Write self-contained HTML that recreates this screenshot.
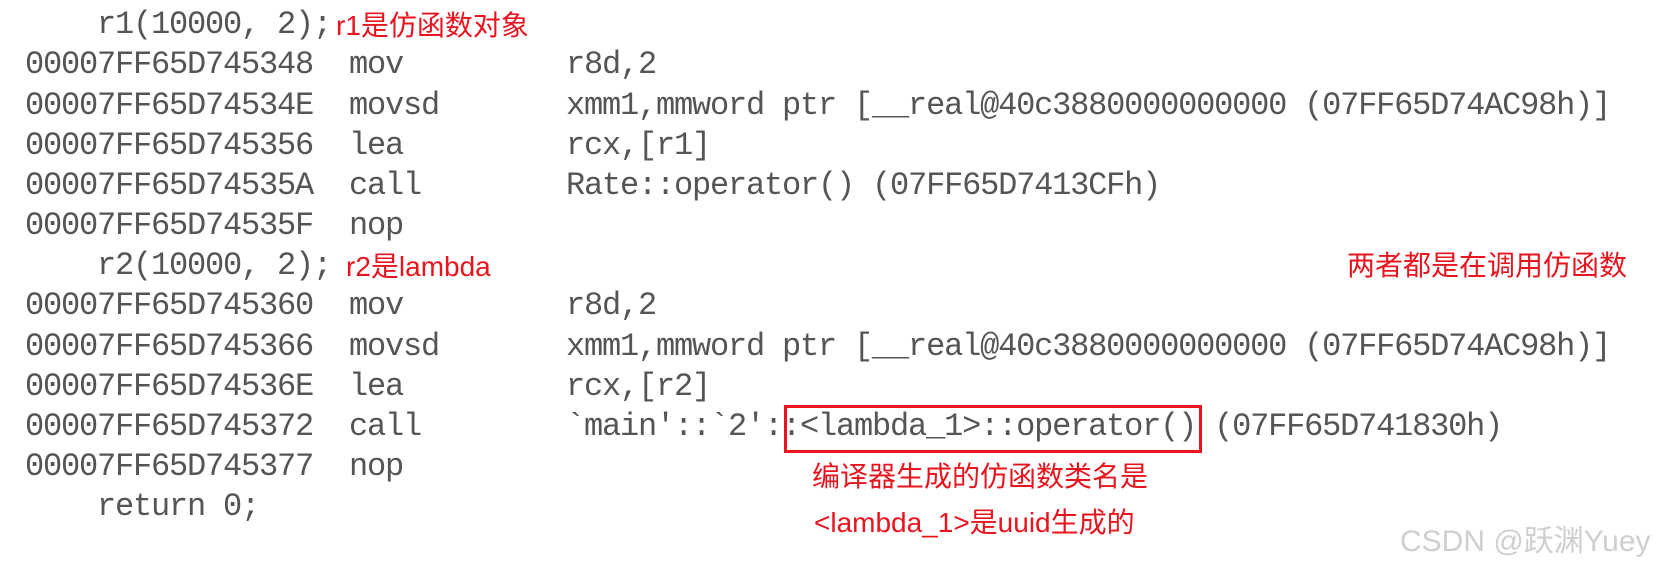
<!DOCTYPE html>
<html><head><meta charset="utf-8"><style>
html,body{margin:0;padding:0;background:#fff;}
body{width:1658px;height:566px;position:relative;overflow:hidden;}
.l{position:absolute;height:40px;line-height:40px;white-space:pre;font-family:"Liberation Mono",monospace;font-size:32px;letter-spacing:-1.2px;color:#555;margin-top:4px;}
.a{left:25px}.m{left:349px}.o{left:566px}.c{left:97px}
.r{position:absolute;white-space:pre;color:#e8141e;font-family:"Liberation Sans","Noto Sans CJK SC",sans-serif;font-size:28px;line-height:34px;margin-top:3px;}
.box{position:absolute;left:784px;top:405px;width:412px;height:42px;border:3px solid #e8141e;}
.wm{position:absolute;left:1400px;top:516px;font-family:"Liberation Sans","Noto Sans CJK SC",sans-serif;font-size:30px;color:#cfcfcf;white-space:pre;}
</style></head><body>
<div class="l c" style="top:1px">r1(10000, 2);</div>
<div class="r" style="left:336px;top:6px">r1是仿函数对象</div>

<div class="l a" style="top:41px">00007FF65D745348</div><div class="l m" style="top:41px">mov</div><div class="l o" style="top:41px">r8d,2</div>
<div class="l a" style="top:82px">00007FF65D74534E</div><div class="l m" style="top:82px">movsd</div><div class="l o" style="top:82px">xmm1,mmword ptr [__real@40c3880000000000 (07FF65D74AC98h)]</div>
<div class="l a" style="top:122px">00007FF65D745356</div><div class="l m" style="top:122px">lea</div><div class="l o" style="top:122px">rcx,[r1]</div>
<div class="l a" style="top:162px">00007FF65D74535A</div><div class="l m" style="top:162px">call</div><div class="l o" style="top:162px">Rate::operator() (07FF65D7413CFh)</div>
<div class="l a" style="top:202px">00007FF65D74535F</div><div class="l m" style="top:202px">nop</div>

<div class="l c" style="top:242px">r2(10000, 2);</div>
<div class="r" style="left:346px;top:247px">r2是lambda</div>
<div class="r" style="left:1347px;top:246px">两者都是在调用仿函数</div>

<div class="l a" style="top:282px">00007FF65D745360</div><div class="l m" style="top:282px">mov</div><div class="l o" style="top:282px">r8d,2</div>
<div class="l a" style="top:323px">00007FF65D745366</div><div class="l m" style="top:323px">movsd</div><div class="l o" style="top:323px">xmm1,mmword ptr [__real@40c3880000000000 (07FF65D74AC98h)]</div>
<div class="l a" style="top:363px">00007FF65D74536E</div><div class="l m" style="top:363px">lea</div><div class="l o" style="top:363px">rcx,[r2]</div>
<div class="l a" style="top:403px">00007FF65D745372</div><div class="l m" style="top:403px">call</div><div class="l o" style="top:403px">`main'::`2'::&lt;lambda_1&gt;::operator() (07FF65D741830h)</div>
<div class="box"></div>
<div class="l a" style="top:443px">00007FF65D745377</div><div class="l m" style="top:443px">nop</div>
<div class="r" style="left:812px;top:457px">编译器生成的仿函数类名是</div>
<div class="l c" style="top:483px">return 0;</div>
<div class="r" style="left:814px;top:503px">&lt;lambda_1&gt;是uuid生成的</div>
<div class="wm">CSDN @跃渊Yuey</div>
</body></html>
